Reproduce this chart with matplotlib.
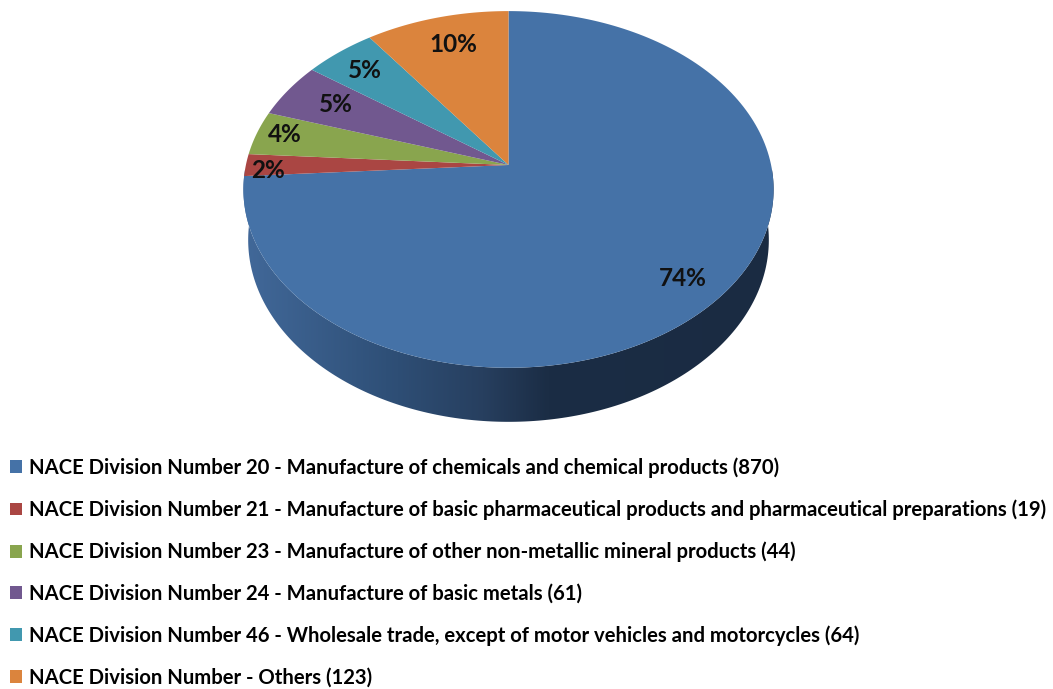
import numpy as np
import matplotlib
import matplotlib.pyplot as plt
from matplotlib.colors import LinearSegmentedColormap
from matplotlib.patches import Patch, Polygon

matplotlib.use("Agg")

labels = [
    "NACE Division Number 20 - Manufacture of chemicals and chemical products",
    "NACE Division Number 21 - Manufacture of basic pharmaceutical products and pharmaceutical preparations",
    "NACE Division Number 23 - Manufacture of other non-metallic mineral products",
    "NACE Division Number 24 - Manufacture of basic metals",
    "NACE Division Number 46 - Wholesale trade, except of motor vehicles and motorcycles",
    "NACE Division Number - Others",
]
counts = [870, 19, 44, 61, 64, 123]
# slices in the picture follow the rounded percentages, not the counts
percents = [74, 2, 4, 5, 5, 10]
colors = ["#4572A7", "#AA4643", "#89A54E", "#71588F", "#4198AF", "#DB843D"]

# label centres in pixels
LABEL_XY = [(683, 279), (268, 171), (285, 135), (336, 104), (365, 70), (453, 44)]

FONT = "Lato"
W, H = 1053, 689

# pie is a unit circle seen in perspective, apex is not the ellipse centre
CX, CY = 508.5, 165.0
A, B, K = 262.6, 175.0, 0.137


def project(theta_deg, xscale=1.0, yscale=1.0, cy=CY):
    t = np.radians(theta_deg)
    u, v = np.cos(t), np.sin(t)
    w = 1 + K * v
    return CX + xscale * A * u / w, cy - yscale * B * v / w


fig = plt.figure(figsize=(W / 100, H / 100), dpi=100)
ax = fig.add_axes([0, 0, 1, 1])

wedges, _ = ax.pie(percents, startangle=90, counterclock=False, colors=colors)
arcs = [(w.theta1, w.theta2) for w in wedges]
for w in wedges:
    w.remove()

ax.set_aspect("auto")
ax.set_xlim(0, W)
ax.set_ylim(H, 0)
ax.axis("off")

# side wall, only the big slice shows at the front
front = np.linspace(180, 360, 200)
tx, ty = project(front)
bx, by = project(front, xscale=0.982, yscale=1.02, cy=215.0)
wall = Polygon(np.column_stack([np.r_[tx, bx[::-1]], np.r_[ty, by[::-1]]]),
               closed=True, transform=ax.transData, facecolor="none", edgecolor="none")
ax.add_patch(wall)
wall_cmap = LinearSegmentedColormap.from_list(
    "wall", [(0, "#42699A"), (0.27, "#2F5078"), (0.45, "#273F5F"), (0.57, "#1B2D45"), (1, "#1A2B42")]
)
im = ax.imshow(np.linspace(0, 1, 256)[None, :], cmap=wall_cmap, aspect="auto",
               extent=(240, 780, 430, 170), zorder=1)
im.set_clip_path(wall)
ax.set_xlim(0, W)
ax.set_ylim(H, 0)

# top of the pie
for (t1, t2), c in zip(arcs, colors):
    th = np.linspace(t1, t2, 200)
    x, y = project(th)
    pts = np.column_stack([np.r_[CX, x], np.r_[CY, y]])
    ax.add_patch(Polygon(pts, closed=True, facecolor=c, edgecolor="none", zorder=2))

for p, (lx, ly) in zip(percents, LABEL_XY):
    ax.text(lx, ly, f"{p}%", ha="center", va="center", fontsize=17.5, family=FONT,
            fontweight="bold", color="#111111", zorder=3)

handles = [Patch(facecolor=c, edgecolor="none") for c in colors]
legend_text = [f"{n} ({v})" for n, v in zip(labels, counts)]
ax.legend(
    handles, legend_text, loc="upper left", bbox_to_anchor=(10 / W, 1 - 457.5 / H),
    frameon=False, borderaxespad=0, borderpad=0, handlelength=0.6, handleheight=0.6,
    handletextpad=0.32, labelspacing=1.06,
    prop={"family": FONT, "size": 14.6, "weight": "bold"},
)

fig.savefig("out.png", dpi=100)
